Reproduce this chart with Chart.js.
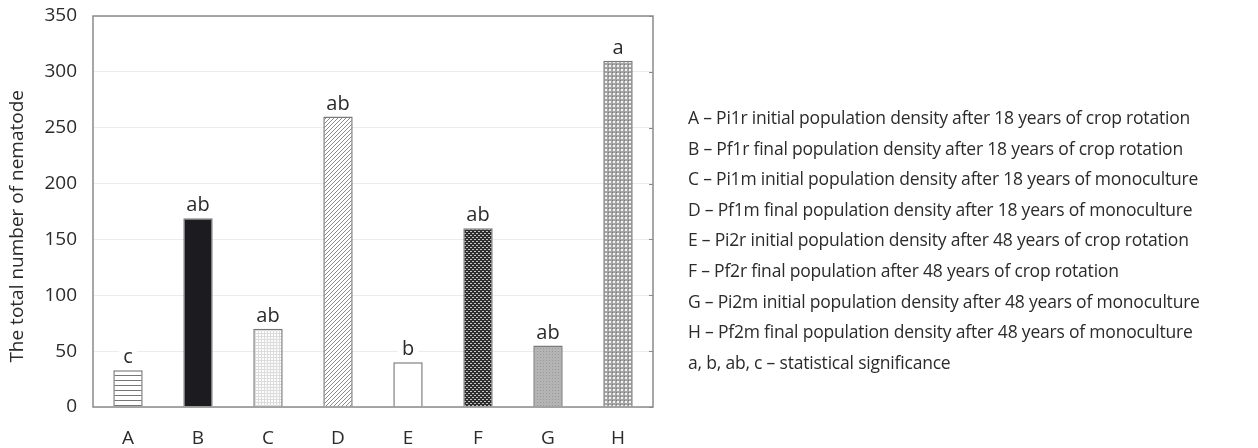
<!DOCTYPE html>
<html>
<head>
<meta charset="utf-8">
<script src="https://cdn.jsdelivr.net/npm/chart.js"></script>
<style>
  html, body { margin: 0; padding: 0; background: #fff; }
  #wrap { position: relative; width: 1258px; height: 448px; }
  #legend {
    position: absolute; left: 688px; top: 102px;
    font-family: "Open Sans", sans-serif; font-size: 17.5px; color: #2b2b2b;
    line-height: 30.6px; letter-spacing: -0.2px; white-space: nowrap;
  }
</style>
</head>
<body>
<div id="wrap">
  <canvas id="chart" width="1258" height="448"></canvas>
  <div id="legend"></div>
</div>
<script>
// data
const categories = ["A", "B", "C", "D", "E", "F", "G", "H"];
const values = [33, 169, 70, 260, 40, 160, 55, 310];
const significance = ["c", "ab", "ab", "ab", "b", "ab", "ab", "a"];
const yTicks = [0, 50, 100, 150, 200, 250, 300, 350];
const legendLines = [
  "A – Pi1r initial population density after 18 years of crop rotation",
  "B – Pf1r final population density after 18 years of crop rotation",
  "C – Pi1m initial population density after 18 years of monoculture",
  "D – Pf1m final population density after 18 years of monoculture",
  "E – Pi2r initial population density after 48 years of crop rotation",
  "F – Pf2r final population after 48 years of crop rotation",
  "G – Pi2m initial population density after 48 years of monoculture",
  "H – Pf2m final population density after 48 years of monoculture",
  "a, b, ab, c – statistical significance"
];

document.getElementById("legend").innerHTML =
  legendLines.map(t => "<div>" + t + "</div>").join("");

const FONT = "'Open Sans', sans-serif";

// little fill patterns for the bars
function makePattern(size, draw) {
  let c = document.createElement("canvas");
  c.width = size; c.height = size;
  let g = c.getContext("2d");
  draw(g, size);
  return c.getContext("2d").createPattern(c, "repeat");
}

let hLines = makePattern(5, (g, s) => {
  g.fillStyle = "#fff"; g.fillRect(0, 0, s, s);
  g.fillStyle = "#777"; g.fillRect(0, 0, s, 1);
});
let fineGrid = makePattern(3, (g, s) => {
  g.fillStyle = "#fcfcfc"; g.fillRect(0, 0, s, s);
  g.fillStyle = "#dcdcdc"; g.fillRect(0, 0, s, 1); g.fillRect(0, 0, 1, s);
});
let diag = makePattern(4, (g, s) => {
  g.fillStyle = "#fff"; g.fillRect(0, 0, s, s);
  g.fillStyle = "#8a8a8a";
  for (let i = 0; i < s; i++) g.fillRect(s - 1 - i, i, 1, 1);
});
let darkWeave = makePattern(4, (g, s) => {
  g.fillStyle = "#2e2e2e"; g.fillRect(0, 0, s, s);
  g.fillStyle = "#c4c4c4";
  g.fillRect(0, 1, 2, 1); g.fillRect(2, 3, 2, 1);
});
let greyDots = makePattern(3, (g, s) => {
  g.fillStyle = "#b4b4b4"; g.fillRect(0, 0, s, s);
  g.fillStyle = "#9a9a9a"; g.fillRect(0, 0, 1, 1);
});
let lightCheck = makePattern(4, (g, s) => {
  g.fillStyle = "#a4a4a4"; g.fillRect(0, 0, s, s);
  g.fillStyle = "#f4f4f4"; g.fillRect(1, 1, 2, 2);
  g.fillStyle = "#7a7a7a"; g.fillRect(0, 0, 1, 1);
});

const fills = [hLines, "#1c1b1f", fineGrid, diag, "#ffffff", darkWeave, greyDots, lightCheck];

// plot frame plus short ticks on the right edge
const frame = {
  id: "frame",
  afterDatasetsDraw(chart) {
    let a = chart.chartArea, ctx = chart.ctx, y = chart.scales.y;
    ctx.save();
    ctx.strokeStyle = "#8a8a8a";
    ctx.lineWidth = 1.5;
    ctx.strokeRect(a.left, a.top, a.right - a.left, a.bottom - a.top);
    ctx.lineWidth = 1;
    yTicks.forEach(v => {
      let py = Math.round(y.getPixelForValue(v)) + 0.5;
      ctx.beginPath(); ctx.moveTo(a.right - 4, py); ctx.lineTo(a.right, py); ctx.stroke();
    });
    ctx.restore();
  }
};

// significance letters above each bar, on a white patch
const letters = {
  id: "letters",
  afterDatasetsDraw(chart) {
    let ctx = chart.ctx;
    let meta = chart.getDatasetMeta(0);
    ctx.save();
    ctx.font = "20px " + FONT;
    ctx.textAlign = "center";
    ctx.textBaseline = "alphabetic";
    meta.data.forEach((bar, i) => {
      let t = significance[i];
      let w = ctx.measureText(t).width;
      let base = bar.y - 7;
      ctx.fillStyle = "#fff";
      ctx.fillRect(bar.x - w / 2 - 4, base - 16, w + 8, 18);
      ctx.fillStyle = "#2b2b2b";
      ctx.fillText(t, bar.x, base);
    });
    ctx.restore();
  }
};

new Chart(document.getElementById("chart"), {
  type: "bar",
  data: {
    labels: categories,
    datasets: [{
      data: values,
      backgroundColor: fills,
      borderColor: "#7a7a7a",
      borderWidth: 1.5,
      barPercentage: 0.6,
      categoryPercentage: 0.7
    }]
  },
  options: {
    responsive: false,
    animation: false,
    layout: { padding: { top: 16, right: 605, left: 0, bottom: 0 } },
    plugins: { legend: { display: false }, tooltip: { enabled: false } },
    scales: {
      x: {
        grid: { display: false, drawTicks: false },
        border: { display: false },
        ticks: { color: "#2b2b2b", padding: 20, font: { family: FONT, size: 19 } },
        afterFit(s) { s.height = 41; }
      },
      y: {
        min: 0, max: 350,
        afterBuildTicks(s) { s.ticks = yTicks.map(v => ({ value: v })); },
        grid: { color: "#ececec", lineWidth: 1, drawTicks: false },
        border: { display: false },
        ticks: { color: "#2b2b2b", padding: 16, font: { family: FONT, size: 19 } },
        title: {
          display: true, text: "The total number of nematode\u00a0\u00a0\u00a0\u00a0\u00a0\u00a0", color: "#2b2b2b",
          font: { family: FONT, size: 19 }, padding: { top: 6, bottom: 0 }
        },
        afterFit(s) { s.width = 93; s.paddingTop = 0; s.paddingBottom = 0; }
      }
    }
  },
  plugins: [frame, letters]
});
</script>
</body>
</html>
